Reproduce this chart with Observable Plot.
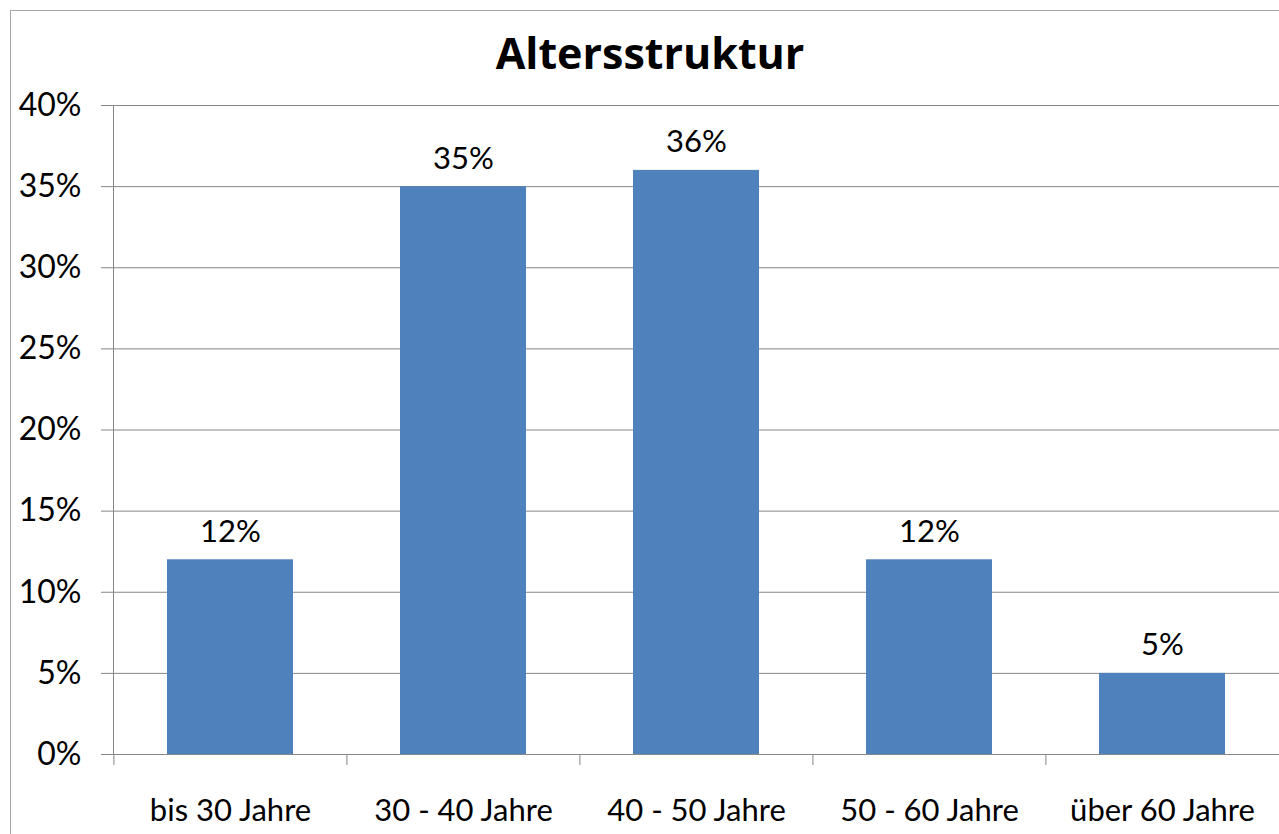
<!DOCTYPE html>
<html><head><meta charset="utf-8">
<script src="https://cdn.jsdelivr.net/npm/d3@7"></script>
<script src="https://cdn.jsdelivr.net/npm/@observablehq/plot@0.6"></script>
<style>
body{margin:0;background:#fff;}
#wrap{position:relative;width:1279px;height:834px;overflow:hidden;background:#fff;}
#frame{position:absolute;left:10px;top:10px;width:1300px;height:900px;border:1px solid #a6a6a6;box-sizing:border-box;}
#title{position:absolute;left:10px;width:1280px;top:23px;text-align:center;font:bold 43px "Open Sans", sans-serif;color:#000;line-height:60px;}
#chart{position:absolute;left:0;top:0;}
</style>
</head><body>
<div id="wrap"><div id="frame"></div><div id="title">Altersstruktur</div><div id="chart"></div></div>
<script>
const categories = ["bis 30 Jahre", "30 - 40 Jahre", "40 - 50 Jahre", "50 - 60 Jahre", "über 60 Jahre"];
const values = [12, 35, 36, 12, 5];
const yTicks = [0, 5, 10, 15, 20, 25, 30, 35, 40];

const data = categories.map((c, i) => ({cat: c, val: values[i]}));
const W = 1279, H = 834, mL = 113, mR = 0, mT = 105, mB = 80;
const step = (W - mL - mR) / categories.length;
const grey = "#868686";
const font = "Lato, sans-serif";

const chart = Plot.plot({
  width: W, height: H,
  marginLeft: mL, marginRight: mR, marginTop: mT, marginBottom: mB,
  style: {fontFamily: font, color: "#000", background: "transparent", overflow: "visible"},
  x: {domain: categories, paddingInner: 0.46, paddingOuter: 0.23, label: null},
  y: {domain: [0, 40], ticks: yTicks, label: null},
  marks: [
    Plot.gridY(yTicks, {stroke: grey, strokeOpacity: 1}),
    Plot.barY(data, {x: "cat", y: "val", fill: "#4F81BD"}),
    Plot.frame({anchor: "left", stroke: grey}),
    Plot.ruleY([0], {stroke: grey}),
    Plot.axisY(yTicks, {tickSize: 12, tickPadding: 20, tickFormat: d => d + "%", fontSize: 32, stroke: grey, fill: "#000"}),
    Plot.axisX({tickSize: 11, text: null, dx: -step / 2, stroke: grey}),
    Plot.axisX({tickSize: 0, tickPadding: 44, fontSize: 31, fill: "#000"}),
    Plot.text(data, {x: "cat", y: "val", text: d => d.val + "%", dy: -28, fontSize: 31, fill: "#000"})
  ]
});
document.getElementById("chart").appendChild(chart);
</script>
</body></html>
